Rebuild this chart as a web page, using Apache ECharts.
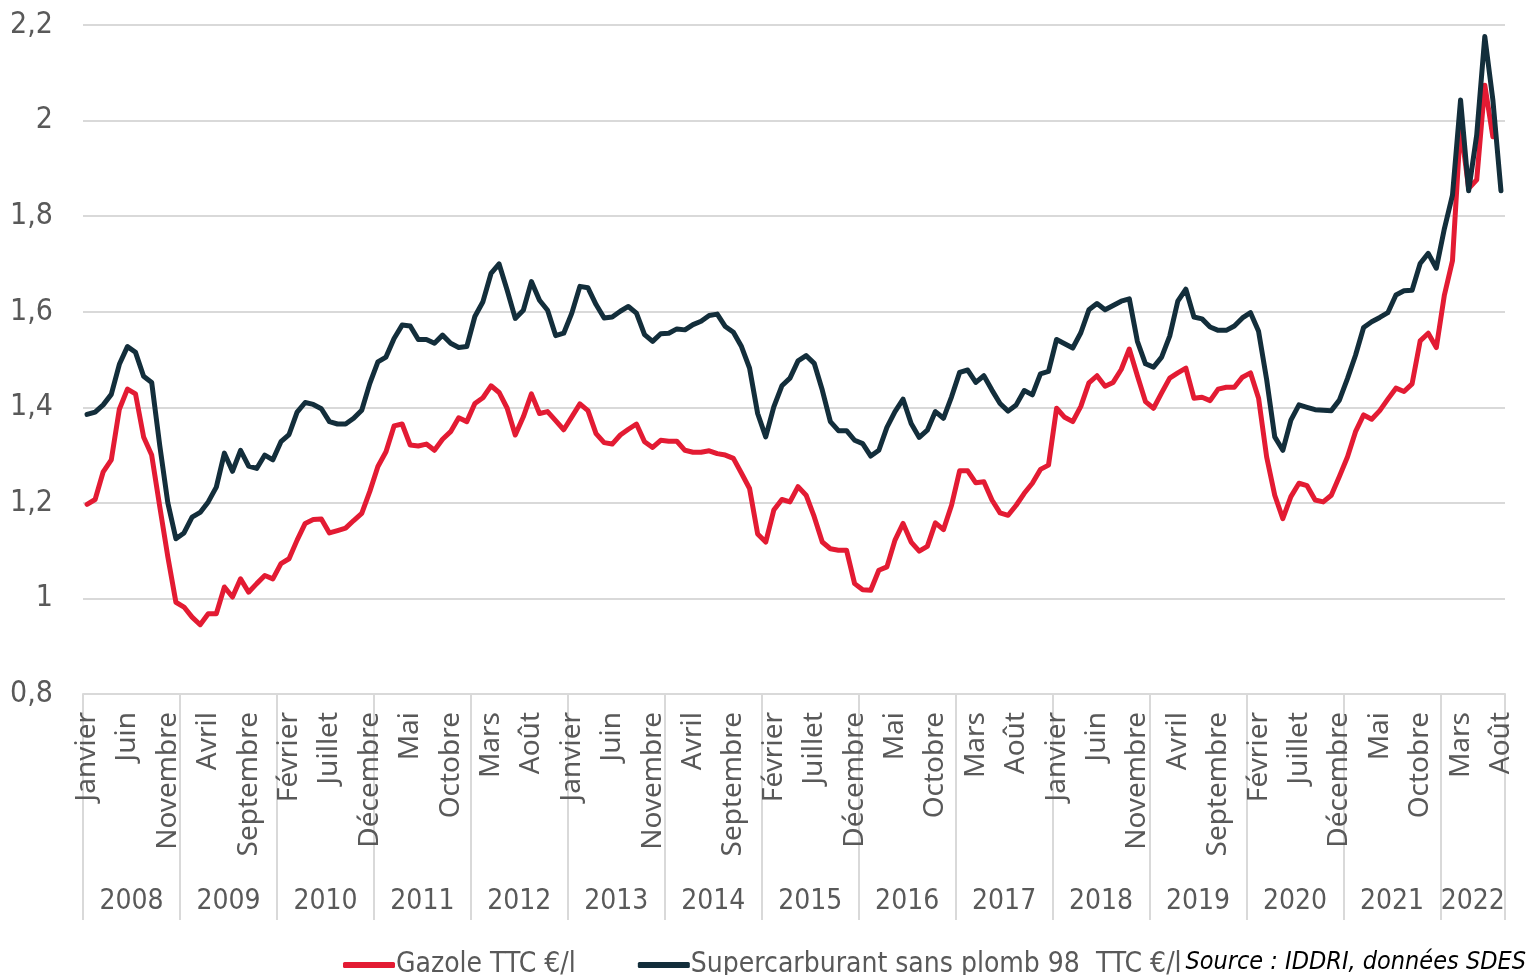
<!DOCTYPE html>
<html>
<head>
<meta charset="utf-8">
<script src="https://cdn.jsdelivr.net/npm/echarts@6/dist/echarts.min.js"></script>
<style>
  html, body { margin: 0; padding: 0; background: #fff; }
  #chart { width: 1535px; height: 975px; }
</style>
</head>
<body>
<div id="chart"></div>
<script>
// mois et années (janvier 2008 -> août 2022)
const monthNames = ['Janvier', 'Février', 'Mars', 'Avril', 'Mai', 'Juin', 'Juillet', 'Août',
  'Septembre', 'Octobre', 'Novembre', 'Décembre']
const years = ['2008', '2009', '2010', '2011', '2012', '2013', '2014', '2015',
  '2016', '2017', '2018', '2019', '2020', '2021', '2022']
const monthCount = 176

const yTicks = ['0,8', '1', '1,2', '1,4', '1,6', '1,8', '2', '2,2']

// Gazole TTC €/l
const gazole = [
  1.197, 1.207, 1.265, 1.29, 1.396, 1.438, 1.428, 1.338, 1.30, 1.192, 1.087, 0.992,
  0.982, 0.961, 0.945, 0.968, 0.968, 1.024, 1.003, 1.041, 1.013, 1.031, 1.048, 1.041,
  1.073, 1.083, 1.122, 1.157, 1.165, 1.166, 1.137, 1.142, 1.147, 1.163, 1.178, 1.224,
  1.276, 1.307, 1.361, 1.365, 1.321, 1.319, 1.323, 1.31, 1.333, 1.349, 1.378, 1.37,
  1.408, 1.42, 1.445, 1.431, 1.398, 1.342, 1.38, 1.428, 1.387, 1.391, 1.372, 1.353,
  1.38, 1.407, 1.393, 1.345, 1.326, 1.323, 1.342, 1.354, 1.365, 1.328, 1.316, 1.331,
  1.329, 1.329, 1.31, 1.306, 1.306, 1.309, 1.303, 1.30, 1.293, 1.262, 1.23, 1.135,
  1.118, 1.185, 1.207, 1.202, 1.234, 1.216, 1.171, 1.118, 1.104, 1.101, 1.101, 1.031,
  1.018, 1.017, 1.059, 1.066, 1.122, 1.157, 1.118, 1.099, 1.109, 1.158, 1.144, 1.195,
  1.267, 1.267, 1.242, 1.244, 1.206, 1.179, 1.174, 1.195, 1.22, 1.241, 1.27, 1.279,
  1.398, 1.379, 1.37, 1.402, 1.451, 1.466, 1.444, 1.452, 1.479, 1.522, 1.466, 1.412,
  1.398, 1.43, 1.461, 1.472, 1.482, 1.419, 1.421, 1.414, 1.438, 1.442, 1.442, 1.463,
  1.472, 1.419, 1.296, 1.216, 1.167, 1.213, 1.241, 1.236, 1.206, 1.202, 1.216, 1.255,
  1.296, 1.349, 1.384, 1.375, 1.393, 1.417, 1.44, 1.433, 1.449, 1.539, 1.555, 1.525,
  1.635, 1.707, 1.99, 1.858, 1.876, 2.074, 1.966, '-'
]

// Supercarburant sans plomb 98 TTC €/l
const sp98 = [
  1.385, 1.39, 1.405, 1.427, 1.49, 1.527, 1.515, 1.465, 1.452, 1.32, 1.2, 1.125,
  1.137, 1.17, 1.18, 1.202, 1.233, 1.304, 1.266, 1.31, 1.277, 1.272, 1.30, 1.29,
  1.328, 1.343, 1.39, 1.41, 1.406, 1.397, 1.37, 1.365, 1.365, 1.377, 1.394, 1.45,
  1.495, 1.505, 1.544, 1.572, 1.57, 1.542, 1.542, 1.534, 1.551, 1.534, 1.525, 1.527,
  1.59, 1.621, 1.68, 1.70, 1.645, 1.586, 1.603, 1.663, 1.624, 1.603, 1.55, 1.555,
  1.597, 1.653, 1.65, 1.615, 1.587, 1.589, 1.601, 1.611, 1.597, 1.552, 1.538, 1.554,
  1.555, 1.564, 1.562, 1.573, 1.58, 1.592, 1.595, 1.569, 1.557, 1.527, 1.482, 1.387,
  1.338, 1.401, 1.445, 1.461, 1.497, 1.508, 1.492, 1.436, 1.37, 1.351, 1.351, 1.331,
  1.324, 1.298, 1.31, 1.358, 1.391, 1.417, 1.366, 1.337, 1.352, 1.391, 1.377, 1.422,
  1.473, 1.478, 1.452, 1.466, 1.436, 1.408, 1.392, 1.405, 1.435, 1.426, 1.47, 1.475,
  1.542, 1.533, 1.524, 1.556, 1.604, 1.617, 1.604, 1.613, 1.622, 1.627, 1.538, 1.491,
  1.484, 1.505, 1.549, 1.622, 1.647, 1.589, 1.585, 1.568, 1.561, 1.561, 1.57, 1.587,
  1.598, 1.559, 1.458, 1.338, 1.31, 1.373, 1.405, 1.40, 1.395, 1.394, 1.393, 1.415,
  1.46, 1.509, 1.567, 1.579, 1.588, 1.598, 1.635, 1.644, 1.645, 1.701, 1.722, 1.691,
  1.774, 1.844, 2.043, 1.853, 1.97, 2.176, 2.043, 1.853
]

// catégories de l'axe x (mois / année)
let monthAxis = []
let yearAxis = []
for (let i = 0; i < monthCount; i++) {
  monthAxis.push(monthNames[i % 12])
  yearAxis.push(years[Math.floor(i / 12)])
}

const grey = '#595959'
const gridColor = '#d9d9d9'
const narrow = "'Liberation Sans Narrow', 'DejaVu Sans Condensed', sans-serif"

let myChart = echarts.init(document.getElementById('chart'))
let option = {
  animation: false,
  backgroundColor: '#fff',
  title: {
    text: 'Source : IDDRI, données SDES',
    right: 4,
    top: 945,
    textStyle: {
      fontFamily: narrow,
      fontStyle: 'italic',
      fontWeight: 'normal',
      fontSize: 25,
      color: '#000'
    }
  },
  legend: {
    left: 338,
    top: 946,
    itemWidth: 52,
    itemHeight: 6,
    itemGap: 62,
    icon: 'roundRect',
    textStyle: {
      fontFamily: narrow,
      fontSize: 28,
      color: grey,
      padding: [0, 0, 0, -4]
    },
    data: ['Gazole TTC €/l', 'Supercarburant sans plomb 98  TTC €/l']
  },
  grid: {
    left: 83,
    right: 30,
    top: 25,
    bottom: 281
  },
  xAxis: [{
    type: 'category',
    data: monthAxis,
    boundaryGap: true,
    axisLine: { lineStyle: { color: gridColor, width: 2 } },
    axisTick: { show: false },
    axisLabel: {
      interval: 4,
      rotate: 90,
      margin: 18,
      fontFamily: "'Noto Sans', sans-serif",
      fontSize: 28,
      color: grey
    }
  }, {
    type: 'category',
    data: yearAxis,
    position: 'bottom',
    boundaryGap: true,
    axisLine: { show: false },
    axisTick: {
      show: true,
      length: 226,
      interval: function (index) {
        return index % 12 === 0 || index === monthCount
      },
      lineStyle: { color: gridColor, width: 2 }
    },
    axisLabel: {
      interval: function (index) {
        return index % 12 === 6 || index === 172
      },
      margin: 194,
      padding: [0, 8, 0, 0],
      fontFamily: narrow,
      fontSize: 28,
      color: grey
    }
  }],
  yAxis: {
    type: 'value',
    min: 0.8,
    max: 2.2,
    interval: 0.2,
    axisLine: { show: false },
    axisTick: { show: false },
    splitLine: { lineStyle: { color: gridColor, width: 2 } },
    axisLabel: {
      margin: 30,
      fontFamily: narrow,
      fontSize: 30,
      color: grey,
      formatter: function (value) {
        let idx = Math.round((value - 0.8) / 0.2)
        return yTicks[idx]
      }
    }
  },
  series: [{
    name: 'Gazole TTC €/l',
    type: 'line',
    data: gazole,
    symbol: 'none',
    color: '#e31b33',
    lineStyle: { width: 5, color: '#e31b33', cap: 'round', join: 'round' }
  }, {
    name: 'Supercarburant sans plomb 98  TTC €/l',
    type: 'line',
    data: sp98,
    symbol: 'none',
    color: '#132e3b',
    lineStyle: { width: 5, color: '#132e3b', cap: 'round', join: 'round' }
  }]
}
myChart.setOption(option)
</script>
</body>
</html>
